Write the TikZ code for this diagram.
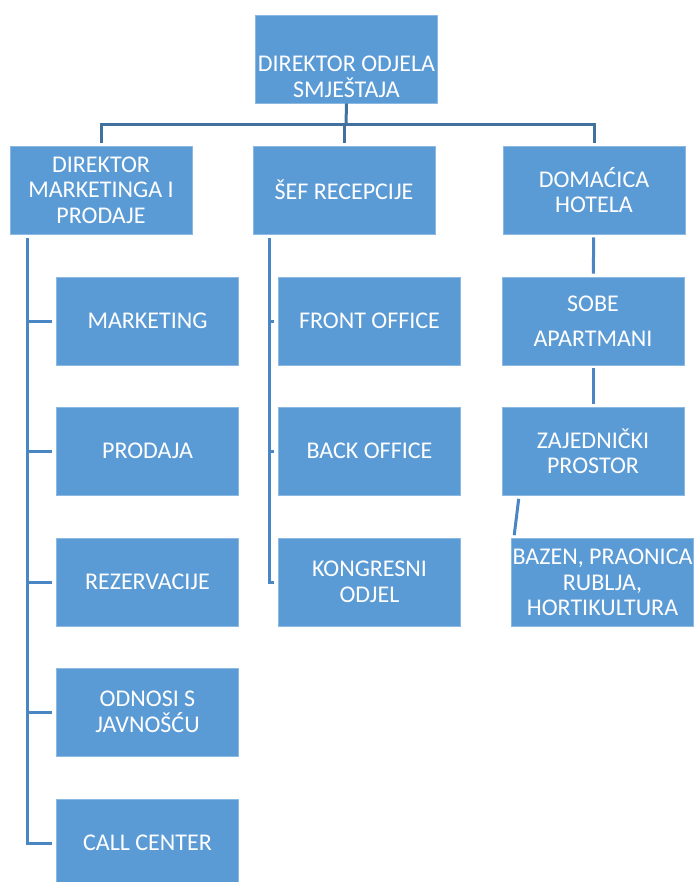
\documentclass[tikz,border=0pt]{standalone}
\usepackage{fontspec}
\setmainfont{Carlito}
\usepackage{tikz}
\definecolor{boxblue}{HTML}{5B9BD5}
\definecolor{topline}{HTML}{41719C}
\definecolor{sideline}{HTML}{4A86C3}
\tikzstyle{unit}=[rectangle,fill=boxblue,draw=boxblue!70!white,line width=0.6pt,text=white,align=center,
  minimum width=182pt,minimum height=88pt,inner sep=0pt,
  font=\fontsize{24}{25.5}\selectfont]
\tikzstyle{caption}=[text=white,align=center,inner sep=0pt,font=\fontsize{24}{25.5}\selectfont]
\tikzstyle{head} = [draw=topline,line width=3pt]
\tikzstyle{link} = [draw=sideline,line width=3pt]

\begin{document}
\begin{tikzpicture}[x=1pt,y=-1pt]
    \clip (0,0) rectangle (694,882);
    % Top and second level
    \node[unit] (dir) at (346.5,59) {};
    \node[caption] (dirtext) at ([yshift=-18pt]dir.center) {DIREKTOR ODJELA\\SMJEŠTAJA};
    \node[unit] (mkt) at (101,190) {DIREKTOR\\MARKETINGA I\\PRODAJE};
    \node[unit] (rec) at (344,190) {ŠEF RECEPCIJE};
    \node[unit] (dom) at (594,190) {DOMAĆICA\\HOTELA};
    \coordinate (bus) at (346,125);
    % Connect the top with the second level
    \path[head] (dir.south) -- (bus);
    \foreach \dest in {mkt, rec, dom}
        \path[head,shorten >=3pt] (bus) -| (\dest.north);
    % Marketing and sales
    \foreach \pos/\name/\txt in {{(147.5,321)/mark/MARKETING}, {(147.5,451)/prod/PRODAJA},
        {(147.5,582)/rez/REZERVACIJE}, {(147.5,712)/odn/ODNOSI S\\JAVNOŠĆU},
        {(147.5,843)/call/CALL CENTER}}
        \node[unit] (\name) at \pos {\txt};
    \path[link,shorten >=4pt] ([xshift=18pt,yshift=-4pt]mkt.south west) |- (call.west);
    \foreach \source in {mark, prod, rez, odn}
        \path[link,shorten <=4pt] (\source.west) -- ++(-29,0);
    % Reception
    \foreach \pos/\name/\txt in {{(369.5,321)/front/FRONT OFFICE}, {(369.5,451)/back/BACK OFFICE},
        {(369.5,582)/kong/KONGRESNI\\ODJEL}}
        \node[unit] (\name) at \pos {\txt};
    \path[link,shorten >=4pt] ([xshift=17pt,yshift=-4pt]rec.south west) |- (kong.west);
    \foreach \source in {front, back}
        \path[link,shorten <=4pt] (\source.west) -- ++(-9,0);
    % Housekeeping
    \node[unit] (sobe) at (593,321) {SOBE\\[10pt]APARTMANI};
    \node[unit] (zaj) at (593,451.5) {ZAJEDNIČKI\\PROSTOR};
    \node[unit] (baz) at (602.5,582.5) {BAZEN, PRAONICA\\RUBLJA,\\HORTIKULTURA};
    \foreach \source/ \dest in {dom/sobe, sobe/zaj}
        \path[link,shorten <=3pt,shorten >=3pt] (\source) -- (\dest);
    \path[link] ([xshift=17pt,yshift=-3pt]zaj.south west) -- ([xshift=3pt,yshift=3pt]baz.north west);
\end{tikzpicture}
\end{document}
